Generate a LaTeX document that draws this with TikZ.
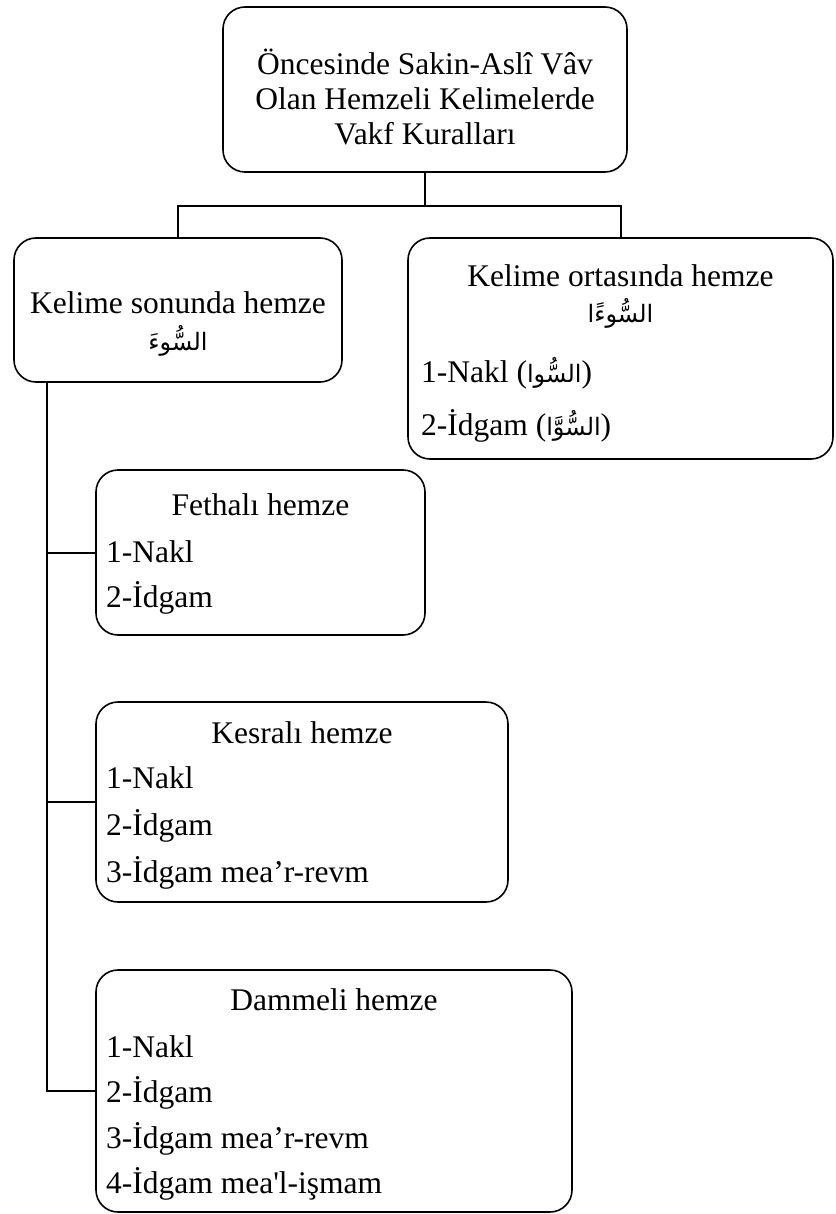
\documentclass[tikz,border=0pt]{standalone}
\usepackage{fontspec}
\setmainfont{Liberation Serif}
% same face, without the TeX quote ligatures, for a straight apostrophe
\newfontfamily\plainserif{Liberation Serif}
\newfontfamily\arabicfont[Script=Arabic]{DejaVu Sans}
\TeXXeTstate=1
% Arabic words, set right to left
\newcommand{\arabword}[1]{{\arabicfont\fontsize{24}{29}\selectfont\beginR #1\endR}}

\begin{document}
\begin{tikzpicture}[x=1pt, y=-1pt,
  box/.style={draw, line width=1.6pt, rounded corners=22pt, inner sep=0pt},
  link/.style={draw, line width=2pt},
  txt/.style={inner sep=0pt, font=\fontsize{31.5}{35}\selectfont},
  head/.style={txt, anchor=base},
  item/.style={txt, anchor=base west}]

\useasboundingbox (0,0) rectangle (835,1214);

% boxes
\node[box, minimum width=404pt, minimum height=165pt] (top)   at (425,89.5)  {};
\node[box, minimum width=328pt, minimum height=144pt] (end)   at (178,310)   {};
\node[box, minimum width=425pt, minimum height=221pt] (mid)   at (620.5,348.5) {};
\node[box, minimum width=329pt, minimum height=165pt] (feth)  at (260.5,552.5) {};
\node[box, minimum width=412pt, minimum height=200pt] (kesr)  at (302,802)   {};
\node[box, minimum width=476pt, minimum height=242pt] (damm)  at (334,1091)  {};

% root
\node[head] (t1) at (425,75)  {Öncesinde Sakin-Aslî Vâv};
\node[head] (t2) at (425,110) {Olan Hemzeli Kelimelerde};
\node[head] (t3) at (425,145) {Vakf Kuralları};

% word-final hamza
\node[head] (e1) at (178,313) {Kelime sonunda hemze};
\node[head] (e2) at (178,350) {\arabword{السُّوءَ}};

% word-medial hamza
\node[head] (m1) at (620.5,287) {Kelime ortasında hemze};
\node[head] (m2) at (620.5,323) {\arabword{السُّوءًا}};
\node[item] (m3) at (421,382) {1-Nakl (\arabword{السُّوا})};
\node[item] (m4) at (421,435) {2-İdgam (\arabword{السُّوَّا})};

% fatha
\node[head] (f1) at (260.5,515) {Fethalı hemze};
\node[item] (f2) at (106,562) {1-Nakl};
\node[item] (f3) at (106,607) {2-İdgam};

% kasra
\node[head] (k1) at (302,743) {Kesralı hemze};
\node[item] (k2) at (106,788) {1-Nakl};
\node[item] (k3) at (106,835) {2-İdgam};
\node[item] (k4) at (106,882) {3-İdgam mea’r-revm};

% damma
\node[head] (d1) at (334,1010) {Dammeli hemze};
\node[item] (d2) at (106,1057) {1-Nakl};
\node[item] (d3) at (106,1102) {2-İdgam};
\node[item] (d4) at (106,1148) {3-İdgam mea’r-revm};
\node[item] (d5) at (106,1193) {4-İdgam mea{\plainserif'}l-işmam};

% connectors
\draw[link] (top.south) -- ++(0,33) coordinate (bus);
\draw[link] (end.north) |- (bus) -| (mid.north);
\coordinate (trunk) at ([xshift=34pt]end.south west);
\draw[link] (trunk) |- (damm.west);
\draw[link] (trunk |- feth.west) -- (feth.west);
\draw[link] (trunk |- kesr.west) -- (kesr.west);
\end{tikzpicture}
\end{document}
